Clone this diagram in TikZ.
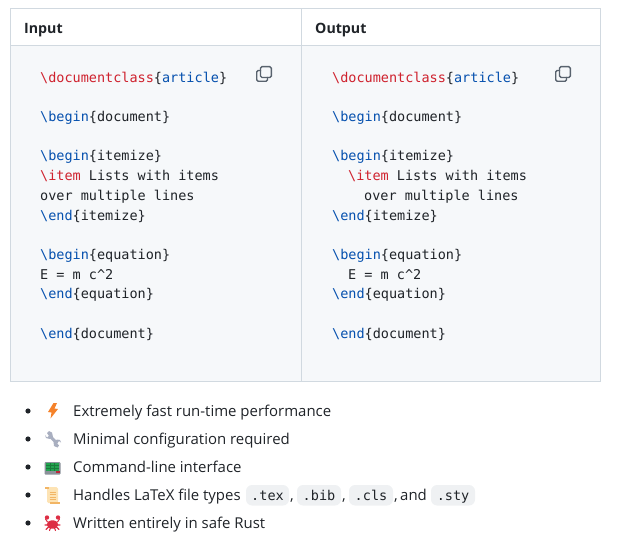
\documentclass[tikz,border=0pt]{standalone}
\usepackage{fontspec}
\setmainfont{Open Sans}
\setmonofont{DejaVu Sans Mono}
\definecolor{rulegray}{HTML}{D1D9E0}
\definecolor{cellbg}{HTML}{F6F8FA}
\definecolor{pillbg}{HTML}{EFF1F3}
\definecolor{inktext}{HTML}{1F2328}
\definecolor{tokred}{HTML}{CF222E}
\definecolor{tokblue}{HTML}{0550AE}
\definecolor{icongray}{HTML}{59636E}
\definecolor{boltorange}{HTML}{F5822A}
\definecolor{wrenchgray}{HTML}{A9AFC0}
\definecolor{termgray}{HTML}{8A9199}
\definecolor{termgreen}{HTML}{22A34F}
\definecolor{scrollpale}{HTML}{FDE3B4}
\definecolor{scrolldark}{HTML}{F2B565}
\definecolor{crabred}{HTML}{DD2E44}
\newcommand{\redcs}[1]{\textcolor{tokred}{\textbackslash #1}}
\newcommand{\bluecs}[1]{\textcolor{tokblue}{\textbackslash #1}}
\tikzset{
  codeline/.style={anchor=base west,inner sep=0pt,text=inktext,font=\ttfamily\fontsize{13.5}{16}\selectfont},
  bodyline/.style={anchor=base west,inner sep=0pt,text=inktext,font=\fontsize{14.95}{18}\selectfont},
  headline/.style={anchor=base west,inner sep=0pt,text=inktext,font=\bfseries\fontsize{14.2}{18}\selectfont},
  pilltext/.style={anchor=base,inner sep=0pt,text=inktext,font=\ttfamily\fontsize{13.5}{16}\selectfont},
  pillbox/.style={fill=pillbg,rounded corners=6pt},
  bulletdot/.style={fill=inktext},
  copyicon/.pic={
    \draw[icongray,line width=1.4pt,rounded corners=1.5pt](-3,-3.5)--(-7.3,-3.5)--(-7.3,7.3)--(3.5,7.3)--(3.5,3);
    \draw[icongray,line width=1.4pt,rounded corners=1.5pt](-3.5,-7.3) rectangle (7.3,3.5);
  }
}
\begin{document}
\begin{tikzpicture}[x=1pt,y=-1pt]
\useasboundingbox (0,0) rectangle (629,537);
% table
\fill[cellbg](10.5,45.5) rectangle (600.5,381.5);
\draw[rulegray,line width=1pt](10.5,8.5) rectangle (600.5,381.5);
\draw[rulegray,line width=1pt](10.5,45.5)--(600.5,45.5);
\draw[rulegray,line width=1pt](301.5,8.5)--(301.5,381.5);
\node[headline] (inputhead) at (24,33.5){Input};
\node[headline] (outputhead) at (315,33.5){Output};
% input column
\node[codeline] (inA) at (40,82.7){\redcs{documentclass}\{\textcolor{tokblue}{article}\}};
\node[codeline] (inB) at (40,121.7){\bluecs{begin}\{document\}};
\node[codeline] (inC) at (40,160.7){\bluecs{begin}\{itemize\}};
\node[codeline] (inD) at (40,180.7){\redcs{item} Lists with items};
\node[codeline] (inE) at (40,200.7){over multiple lines};
\node[codeline] (inF) at (40,220.7){\bluecs{end}\{itemize\}};
\node[codeline] (inG) at (40,259.7){\bluecs{begin}\{equation\}};
\node[codeline] (inH) at (40,279.7){E = m c\textasciicircum 2};
\node[codeline] (inI) at (40,298.7){\bluecs{end}\{equation\}};
\node[codeline] (inJ) at (40,338){\bluecs{end}\{document\}};
% output column
\node[codeline] (outA) at (332,82.7){\redcs{documentclass}\{\textcolor{tokblue}{article}\}};
\node[codeline] (outB) at (332,121.7){\bluecs{begin}\{document\}};
\node[codeline] (outC) at (332,160.7){\bluecs{begin}\{itemize\}};
\node[codeline] (outD) at (348,180.7){\redcs{item} Lists with items};
\node[codeline] (outE) at (364,200.7){over multiple lines};
\node[codeline] (outF) at (332,220.7){\bluecs{end}\{itemize\}};
\node[codeline] (outG) at (332,259.7){\bluecs{begin}\{equation\}};
\node[codeline] (outH) at (348,279.7){E = m c\textasciicircum 2};
\node[codeline] (outI) at (332,298.7){\bluecs{end}\{equation\}};
\node[codeline] (outJ) at (332,338){\bluecs{end}\{document\}};
\pic at (264,74){copyicon};
\pic at (563,74){copyicon};
% bullets
\fill[bulletdot] (28,411) circle (2.6);
\fill[bulletdot] (28,439) circle (2.6);
\fill[bulletdot] (28,467) circle (2.6);
\fill[bulletdot] (28,495) circle (2.6);
\fill[bulletdot] (28,523) circle (2.6);
\node[bodyline] (itemA) at (73,416){Extremely fast run-time performance};
\node[bodyline] (itemB) at (73,444){Minimal configuration required};
\node[bodyline] (itemC) at (73,472){Command-line interface};
\node[bodyline] (itemD) at (73,500){Handles LaTeX file types};
\node[bodyline] (itemE) at (73,528){Written entirely in safe Rust};
\fill[pillbox](246,485) rectangle (289,505.5);
\fill[pillbox](297,485) rectangle (341,505.5);
\fill[pillbox](349,485) rectangle (393,505.5);
\fill[pillbox](431,485) rectangle (475,505.5);
\node[pilltext] (pillA) at (267.5,500.5){.tex};
\node[pilltext] (pillB) at (319,500.5){.bib};
\node[pilltext] (pillC) at (371,500.5){.cls};
\node[pilltext] (pillD) at (453,500.5){.sty};
\node[bodyline] (commaA) at (290,500){,};
\node[bodyline] (commaB) at (342,500){,};
\node[bodyline] (commaC) at (394,500){,};
\node[bodyline] (andword) at (400,500){and};
% bolt
\fill[boltorange](53.5,403)--(48,412)--(51.5,412.5)--(50.5,418.5)--(58,409)--(54.5,408.5)--(57,403)--cycle;
% wrench
\draw[wrenchgray,line width=3pt](49.5,435.5)--(57,443.5);
\fill[wrenchgray](45,435)--(47,437.5)--(49,436)--(47,433)--(49,431)--(52,432.5)--(53,437)--(50,439)--(46,438)--cycle;
\fill[wrenchgray](61,442.5)--(59,441)--(57,443)--(59,445.5)--(57.5,447.5)--(54,446)--(53.5,442)--(57,439.5)--(60,440)--cycle;
% terminal
\fill[termgray,rounded corners=1pt](44.5,462) rectangle (60.5,474.5);
\fill[termgreen](46,463) rectangle (59,470.5);
\draw[termgreen!75!black,line width=.3pt](46,465.5)--(59,465.5) (46,468)--(59,468) (50.3,463)--(50.3,470.5) (54.6,463)--(54.6,470.5);
\fill[crabred!85!black](56,471.3) rectangle (59.5,473);
% scroll
\fill[scrollpale,rounded corners=1.5pt](47,487) rectangle (58,503);
\fill[scrolldark](45,486.5) rectangle (49,488.5);
\fill[scrolldark](50,501.5) rectangle (60,503.5);
\draw[scrolldark,line width=.8pt](49.5,492)--(55.5,492) (49.5,494.5)--(55.5,494.5) (49.5,497)--(55.5,497) (49.5,499.5)--(55.5,499.5);
% crab
\fill[crabred](52.5,524.5) ellipse (5.8 and 4.2);
\draw[crabred,line width=1.1pt,line cap=round](47.5,522)--(45.5,519) (57.5,522)--(59.5,519) (48,525)--(45,525) (57,525)--(60,525) (48.5,527)--(46,529.5) (56.5,527)--(59,529.5) (50.5,528)--(49.5,530.5) (54.5,528)--(55.5,530.5);
\fill[crabred](47,517.5) circle (2.2);
\fill[crabred](58,517.5) circle (2.2);
\end{tikzpicture}
\end{document}
